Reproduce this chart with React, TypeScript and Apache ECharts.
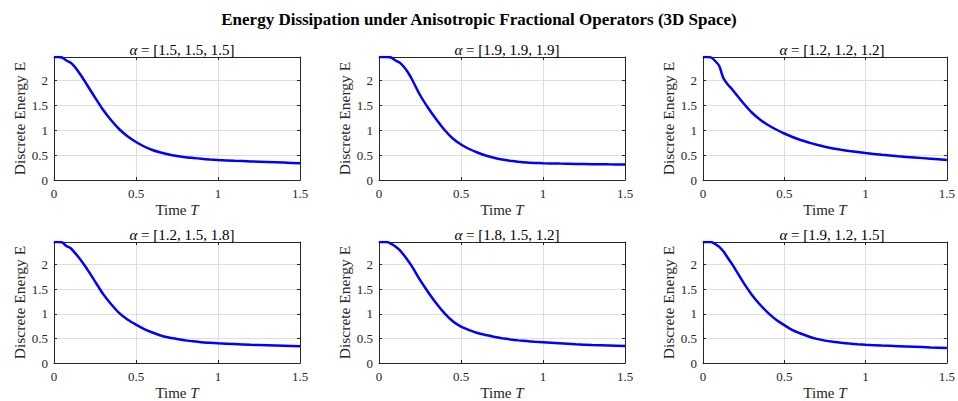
import React, { useEffect, useRef } from "react";
import * as echarts from "echarts";

const MAIN_TITLE = "Energy Dissipation under Anisotropic Fractional Operators (3D Space)";
const ALPHAS = ["[1.5, 1.5, 1.5]", "[1.9, 1.9, 1.9]", "[1.2, 1.2, 1.2]", "[1.2, 1.5, 1.8]", "[1.8, 1.5, 1.2]", "[1.9, 1.2, 1.5]"];
const X_TICKS = [0, 0.5, 1, 1.5];
const Y_TICKS = [0, 0.5, 1, 1.5, 2];
const Y_MAX = 2.46;

const TIME = [0, 0.025, 0.05, 0.075, 0.1, 0.125, 0.15, 0.175, 0.2, 0.25, 0.3, 0.35, 0.4, 0.45, 0.5, 0.55, 0.6, 0.65, 0.7, 0.75, 0.8, 0.85, 0.9, 0.95, 1.0, 1.1, 1.2, 1.3, 1.4, 1.5];

const E_15_15_15 = [2.46, 2.46, 2.45, 2.39, 2.35, 2.27, 2.16, 2.04, 1.91, 1.65, 1.40, 1.19, 1.01, 0.87, 0.76, 0.67, 0.60, 0.55, 0.51, 0.48, 0.455, 0.44, 0.425, 0.41, 0.40, 0.385, 0.372, 0.36, 0.348, 0.336];
const E_19_19_19 = [2.46, 2.46, 2.46, 2.45, 2.39, 2.35, 2.27, 2.16, 2.02, 1.70, 1.44, 1.21, 1.0, 0.83, 0.71, 0.62, 0.55, 0.49, 0.445, 0.41, 0.385, 0.365, 0.35, 0.342, 0.336, 0.328, 0.322, 0.317, 0.313, 0.31];
const E_12_12_12 = [2.46, 2.46, 2.45, 2.38, 2.28, 2.04, 1.92, 1.83, 1.73, 1.53, 1.35, 1.21, 1.10, 1.01, 0.93, 0.86, 0.80, 0.75, 0.705, 0.665, 0.63, 0.603, 0.58, 0.56, 0.54, 0.505, 0.475, 0.45, 0.425, 0.40];
const E_12_15_18 = [2.46, 2.46, 2.45, 2.38, 2.34, 2.25, 2.15, 2.04, 1.92, 1.66, 1.40, 1.19, 1.01, 0.88, 0.78, 0.69, 0.62, 0.56, 0.52, 0.49, 0.46, 0.44, 0.42, 0.41, 0.40, 0.385, 0.37, 0.36, 0.35, 0.34];
const E_18_15_12 = [2.46, 2.46, 2.46, 2.42, 2.37, 2.30, 2.20, 2.09, 1.97, 1.69, 1.44, 1.21, 1.01, 0.85, 0.74, 0.67, 0.61, 0.57, 0.535, 0.505, 0.48, 0.46, 0.445, 0.43, 0.42, 0.40, 0.38, 0.365, 0.355, 0.345];
const E_19_12_15 = [2.46, 2.46, 2.46, 2.42, 2.36, 2.27, 2.15, 2.03, 1.90, 1.63, 1.39, 1.19, 1.02, 0.88, 0.77, 0.67, 0.60, 0.54, 0.49, 0.455, 0.43, 0.41, 0.395, 0.382, 0.372, 0.355, 0.343, 0.33, 0.317, 0.305];

const ENERGIES = [E_15_15_15, E_19_19_19, E_12_12_12, E_12_15_18, E_18_15_12, E_19_12_15];

const FONT = "Liberation Serif";

export default function App() {
  const ref = useRef<HTMLDivElement>(null);
  useEffect(() => {
    if (!ref.current) return;
    const chart = echarts.init(ref.current, undefined, { renderer: "svg" });
    const lefts = [54, 379, 703];
    const widths = [246, 246, 248];
    const tops = [57, 242];
    const heights = [123, 121];
    const grids: any[] = [];
    const xAxes: any[] = [];
    const yAxes: any[] = [];
    const series: any[] = [];
    const titles: any[] = [
      {
        text: MAIN_TITLE,
        left: "center",
        top: 6,
        textStyle: { fontFamily: FONT, fontSize: 17, fontWeight: "bold", color: "#000" },
      },
    ];
    const axisLineStyle = { color: "#262626", width: 1 };
    for (let i = 0; i < 6; i++) {
      const r = Math.floor(i / 3);
      const c = i % 3;
      grids.push({ left: lefts[c], top: tops[r], width: widths[c], height: heights[r], show: false });
      titles.push({
        text: "{i|α} = " + ALPHAS[i],
        left: lefts[c] + widths[c] / 2,
        textAlign: "center",
        top: tops[r] - 20,
        textStyle: {
          fontFamily: FONT,
          fontSize: 15,
          fontWeight: "normal",
          color: "#000",
          rich: { i: { fontFamily: FONT, fontSize: 15, fontStyle: "italic", color: "#000" } },
        },
      });
      xAxes.push({
        type: "value",
        gridIndex: i,
        position: "bottom",
        min: X_TICKS[0],
        max: X_TICKS[X_TICKS.length - 1],
        interval: 0.5,
        name: "Time {i|T}",
        nameLocation: "middle",
        nameGap: 22,
        nameTextStyle: {
          fontFamily: FONT,
          fontSize: 15,
          color: "#262626",
          rich: { i: { fontFamily: FONT, fontSize: 15, fontStyle: "italic", color: "#262626" } },
        },
        axisLine: { show: true, onZero: false, lineStyle: axisLineStyle },
        axisTick: { show: true, inside: true, length: 3, lineStyle: axisLineStyle },
        axisLabel: { fontFamily: FONT, fontSize: 13, color: "#262626", margin: 7 },
        splitLine: { show: true, lineStyle: { color: "#dfdfdf", width: 1 } },
      });
      xAxes.push({
        type: "value",
        gridIndex: i,
        position: "top",
        min: X_TICKS[0],
        max: X_TICKS[X_TICKS.length - 1],
        interval: 0.5,
        axisLine: { show: true, onZero: false, lineStyle: axisLineStyle },
        axisTick: { show: true, inside: true, length: 3, lineStyle: axisLineStyle },
        axisLabel: { show: false },
        splitLine: { show: false },
      });
      yAxes.push({
        type: "value",
        gridIndex: i,
        position: "left",
        min: 0,
        max: Y_MAX,
        interval: 0.5,
        name: "Discrete Energy E",
        nameLocation: "middle",
        nameGap: 27,
        nameTextStyle: { fontFamily: FONT, fontSize: 15.5, color: "#262626" },
        axisLine: { show: true, onZero: false, lineStyle: axisLineStyle },
        axisTick: { show: true, inside: true, length: 3, lineStyle: axisLineStyle },
        axisLabel: {
          fontFamily: FONT,
          fontSize: 13,
          color: "#262626",
          margin: 6,
          showMaxLabel: false,
          formatter: (v: number) => (Y_TICKS.includes(v) ? String(v) : ""),
        },
        splitLine: { show: true, lineStyle: { color: "#dfdfdf", width: 1 } },
      });
      yAxes.push({
        type: "value",
        gridIndex: i,
        position: "right",
        min: 0,
        max: Y_MAX,
        interval: 0.5,
        axisLine: { show: true, onZero: false, lineStyle: axisLineStyle },
        axisTick: { show: true, inside: true, length: 3, lineStyle: axisLineStyle },
        axisLabel: { show: false },
        splitLine: { show: false },
      });
      series.push({
        type: "line",
        xAxisIndex: i * 2,
        yAxisIndex: i * 2,
        data: TIME.map((t, k) => [t, ENERGIES[i][k]]),
        showSymbol: false,
        smooth: 0.2,
        lineStyle: { color: "#0000ff", width: 2.5 },
        itemStyle: { color: "#0000ff" },
      });
    }
    chart.setOption({
      animation: false,
      backgroundColor: "#ffffff",
      title: titles,
      grid: grids,
      xAxis: xAxes,
      yAxis: yAxes,
      series,
    });
    return () => chart.dispose();
  }, []);
  return (
    <div
      ref={ref}
      style={{ position: "absolute", left: 0, top: 0, width: 958, height: 401 }}
    />
  );
}
